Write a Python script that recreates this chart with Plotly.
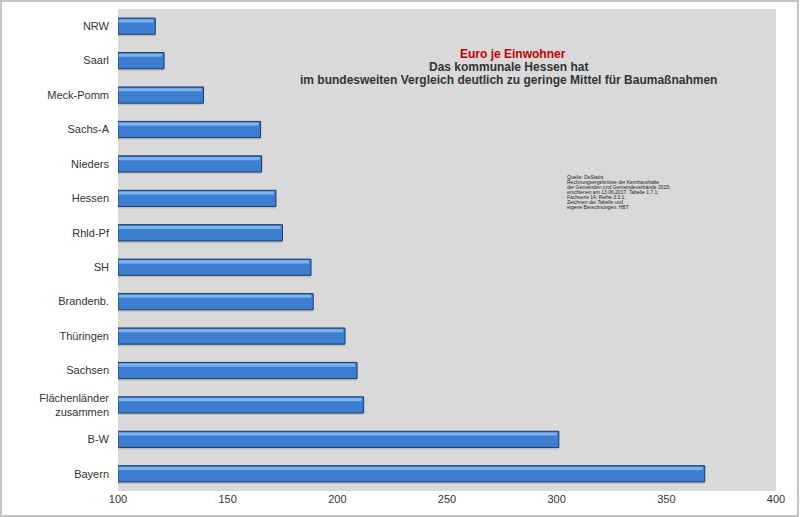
import plotly.graph_objects as go

# Euro je Einwohner, Baumaßnahmen der Kommunen (2015)
laender = ["NRW", "Saarl", "Meck-Pomm", "Sachs-A", "Nieders", "Hessen", "Rhld-Pf",
           "SH", "Brandenb.", "Thüringen", "Sachsen", "Flächenländer<br>zusammen",
           "B-W", "Bayern"]
euro_je_einwohner = [117, 121, 139, 165, 165.5, 172, 175, 188, 189, 203.5, 209, 212, 301, 367.5]

x_ticks = [100, 150, 200, 250, 300, 350, 400]

titel_zeilen = ["Euro je Einwohner",
                "Das kommunale Hessen hat",
                "im bundesweiten Vergleich deutlich zu geringe Mittel für Baumaßnahmen"]

quelle_zeilen = ["Quelle: DeStatis",
                 "Rechnungsergebnisse der Kernhaushalte",
                 "der Gemeinden und Gemeindeverbände 2015;",
                 "erschienen am 13.06.2017, Tabelle 1.7.1;",
                 "Fachserie 14, Reihe 3.3.1;",
                 "Zeichnen der Tabelle und",
                 "eigene Berechnungen: HBT"]

base = [100] * len(laender)
bar_len = [v - 100 for v in euro_je_einwohner]

fig = go.Figure()

# light shadow under the bars
fig.add_trace(go.Bar(
    y=laender, x=bar_len, base=base, orientation="h",
    width=0.06, offset=0.235,
    marker=dict(color="#bdbdbd", line=dict(width=0)),
    hoverinfo="skip", showlegend=False,
))

# main bars
fig.add_trace(go.Bar(
    y=laender, x=bar_len, base=base, orientation="h",
    width=0.47, offset=-0.235,
    marker=dict(color="#3d7ed0", line=dict(color="#1b3a66", width=1)),
    showlegend=False,
))

# highlight stripe for the glossy look
fig.add_trace(go.Bar(
    y=laender, x=[v - 1.2 for v in bar_len], base=[100.3] * len(laender), orientation="h",
    width=0.09, offset=-0.2,
    marker=dict(color="#7db3ee", line=dict(width=0)),
    hoverinfo="skip", showlegend=False,
))

annotations = []
# title lines, 13 px apart
for i, zeile in enumerate(titel_zeilen):
    annotations.append(dict(
        xref="paper", yref="paper",
        x=0.6 if i == 0 else 0.593,
        y=0.9066 - i * 13 / 482, xanchor="center", yanchor="middle",
        text="<b>" + zeile + "</b>", showarrow=False,
        font=dict(size=12, color="#c00000" if i == 0 else "#333333"),
    ))
# source note in tiny print
for i, zeile in enumerate(quelle_zeilen):
    annotations.append(dict(
        xref="paper", yref="paper", x=(565 - 118) / 658,
        y=(491 - 177) / 482 - i * 5 / 482, xanchor="left", yanchor="middle",
        text=zeile, showarrow=False, align="left",
        font=dict(size=5, color="#222222"),
    ))

fig.update_layout(
    width=800, height=517,
    barmode="overlay",
    paper_bgcolor="white",
    plot_bgcolor="#d9d9d9",
    margin=dict(l=118, r=24, t=9, b=26),
    font=dict(family="Liberation Sans, Arial, sans-serif", size=11, color="#333333"),
    xaxis=dict(
        range=[100, 400], tickvals=x_ticks, showgrid=False, zeroline=False,
        showline=False, ticks="", tickfont=dict(size=11, color="#333333"),
    ),
    yaxis=dict(
        autorange="reversed", showgrid=False, zeroline=False, showline=False,
        ticks="", ticklabelstandoff=8, tickfont=dict(size=11, color="#333333"),
    ),
    annotations=annotations,
    shapes=[
        dict(type="rect", xref="paper", yref="paper", x0=-117 / 658, x1=1 + 22 / 658,
             y0=-25 / 482, y1=1 + 8 / 482, line=dict(color="#c4c4c4", width=2),
             fillcolor="rgba(0,0,0,0)", layer="above"),
    ],
)

fig.write_html("out.html", config={"displayModeBar": False},
               post_script="document.body.style.margin='0px';")
